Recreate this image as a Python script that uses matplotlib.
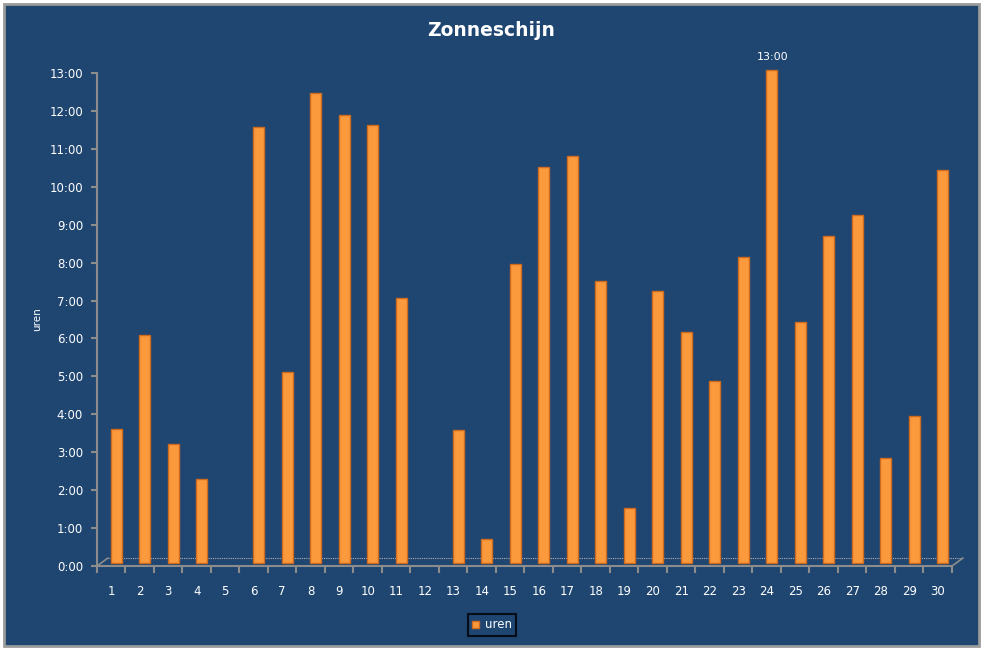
import matplotlib
matplotlib.use("Agg")
import matplotlib.pyplot as plt
import matplotlib.transforms as mtransforms
from matplotlib.patches import Rectangle, Patch
from matplotlib.lines import Line2D
from matplotlib.ticker import FixedLocator, FuncFormatter

# zonneschijn per dag, in uren
days = list(range(1, 31))
uren = [3.53, 6.01, 3.14, 2.21, 0.0, 11.50, 5.04, 12.39, 11.81, 11.55,
        6.99, 0.0, 3.51, 0.63, 7.88, 10.44, 10.73, 7.44, 1.45, 7.17,
        6.09, 4.80, 8.07, 13.0, 6.36, 8.62, 9.18, 2.77, 3.88, 10.36]
hour_ticks = list(range(0, 14))
label_day = 24

title = "Zonneschijn"
ylabel = "uren"
series_name = "uren"

bg = "#1f4571"
bar_face = "#fb9a3c"
bar_edge = "#cf6a1e"
axis_grey = "#8c8c8c"


def hhmm(v, pos=None):
    h = int(v)
    m = int(round((v - h) * 60))
    return "%d:%02d" % (h, m)


fig = plt.figure(figsize=(9.87, 6.48), dpi=100)
fig.patch.set_facecolor("white")
W, H = 987.0, 648.0

# chart area background with grey border
fig.patches.append(Rectangle((4 / W, 2 / H), 975 / W, 642 / H, transform=fig.transFigure,
                             facecolor=bg, edgecolor="#9a9a9a", linewidth=2, zorder=-5))

ax = fig.add_axes([97 / W, 82 / H, 855 / W, 493 / H])
ax.patch.set_visible(False)
ax.set_xlim(0.5, 30.5)
ax.set_ylim(0, 13)

# 3D-ish offset for bars and floor
bar_shift = mtransforms.ScaledTranslation(5 / 100, 3 / 100, fig.dpi_scale_trans)
floor_shift = mtransforms.ScaledTranslation(11 / 100, 8 / 100, fig.dpi_scale_trans)

bars = ax.bar(days, uren, width=0.38, color=bar_face, edgecolor=bar_edge,
              linewidth=1.0, zorder=3)
for b, v in zip(bars, uren):
    b.set_transform(ax.transData + bar_shift)
    b.set_clip_on(False)
    if v == 0:
        b.set_visible(False)

# floor
back = ax.transAxes + floor_shift
ax.add_line(Line2D([0, 1], [0, 0], transform=back, color="#b0b0b0",
                   linewidth=0.8, linestyle=(0, (1, 1)), zorder=1, clip_on=False))
ax.annotate("", xy=(0, 0), xycoords=back, xytext=(0, 0), textcoords=ax.transAxes,
            arrowprops=dict(arrowstyle="-", color=axis_grey, lw=1.2, shrinkA=0, shrinkB=0))
ax.annotate("", xy=(1, 0), xycoords=back, xytext=(1, 0), textcoords=ax.transAxes,
            arrowprops=dict(arrowstyle="-", color=axis_grey, lw=1.2, shrinkA=0, shrinkB=0))

# spines
for s in ("top", "right"):
    ax.spines[s].set_visible(False)
for s in ("left", "bottom"):
    ax.spines[s].set_color(axis_grey)
    ax.spines[s].set_linewidth(1.5)

# y axis
ax.set_yticks(hour_ticks)
ax.yaxis.set_major_formatter(FuncFormatter(hhmm))
ax.tick_params(axis="y", colors=axis_grey, length=4, width=1.5, labelcolor="white",
               labelsize=8.5, pad=6)

# x axis: tick marks between days, labels under days
ax.xaxis.set_major_locator(FixedLocator([d - 0.5 for d in days] + [30.5]))
ax.xaxis.set_major_formatter(FuncFormatter(lambda v, p: ""))
ax.xaxis.set_minor_locator(FixedLocator(days))
ax.xaxis.set_minor_formatter(FuncFormatter(lambda v, p: "%d" % round(v)))
ax.tick_params(axis="x", which="major", colors=axis_grey, length=5, width=1.5)
ax.tick_params(axis="x", which="minor", length=0, labelcolor="white",
               labelsize=8.5, pad=14)

ax.set_ylabel(ylabel, color="white", fontsize=7.5, labelpad=5)

# data label on the longest day
i = days.index(label_day)
ax.annotate(hhmm(uren[i]), xy=(label_day, uren[i]), xytext=(4, 8),
            textcoords="offset points", ha="center", va="bottom",
            color="white", fontsize=8)

fig.text(491 / W, 1 - 31 / H, title, ha="center", va="center", color="white",
         fontsize=13.5, fontweight="bold")

leg = fig.legend(handles=[Patch(facecolor=bar_face, edgecolor=bar_edge, label=series_name)],
                 loc="center", bbox_to_anchor=(492 / W, 1 - 625 / H), fontsize=8.5,
                 frameon=True, fancybox=False, handlelength=0.6, handleheight=0.6,
                 handletextpad=0.5, borderpad=0.35, labelcolor="white")
leg.get_frame().set_facecolor(bg)
leg.get_frame().set_edgecolor("black")
leg.get_frame().set_linewidth(1.5)

fig.savefig("out.png", dpi=100, facecolor=fig.get_facecolor())
